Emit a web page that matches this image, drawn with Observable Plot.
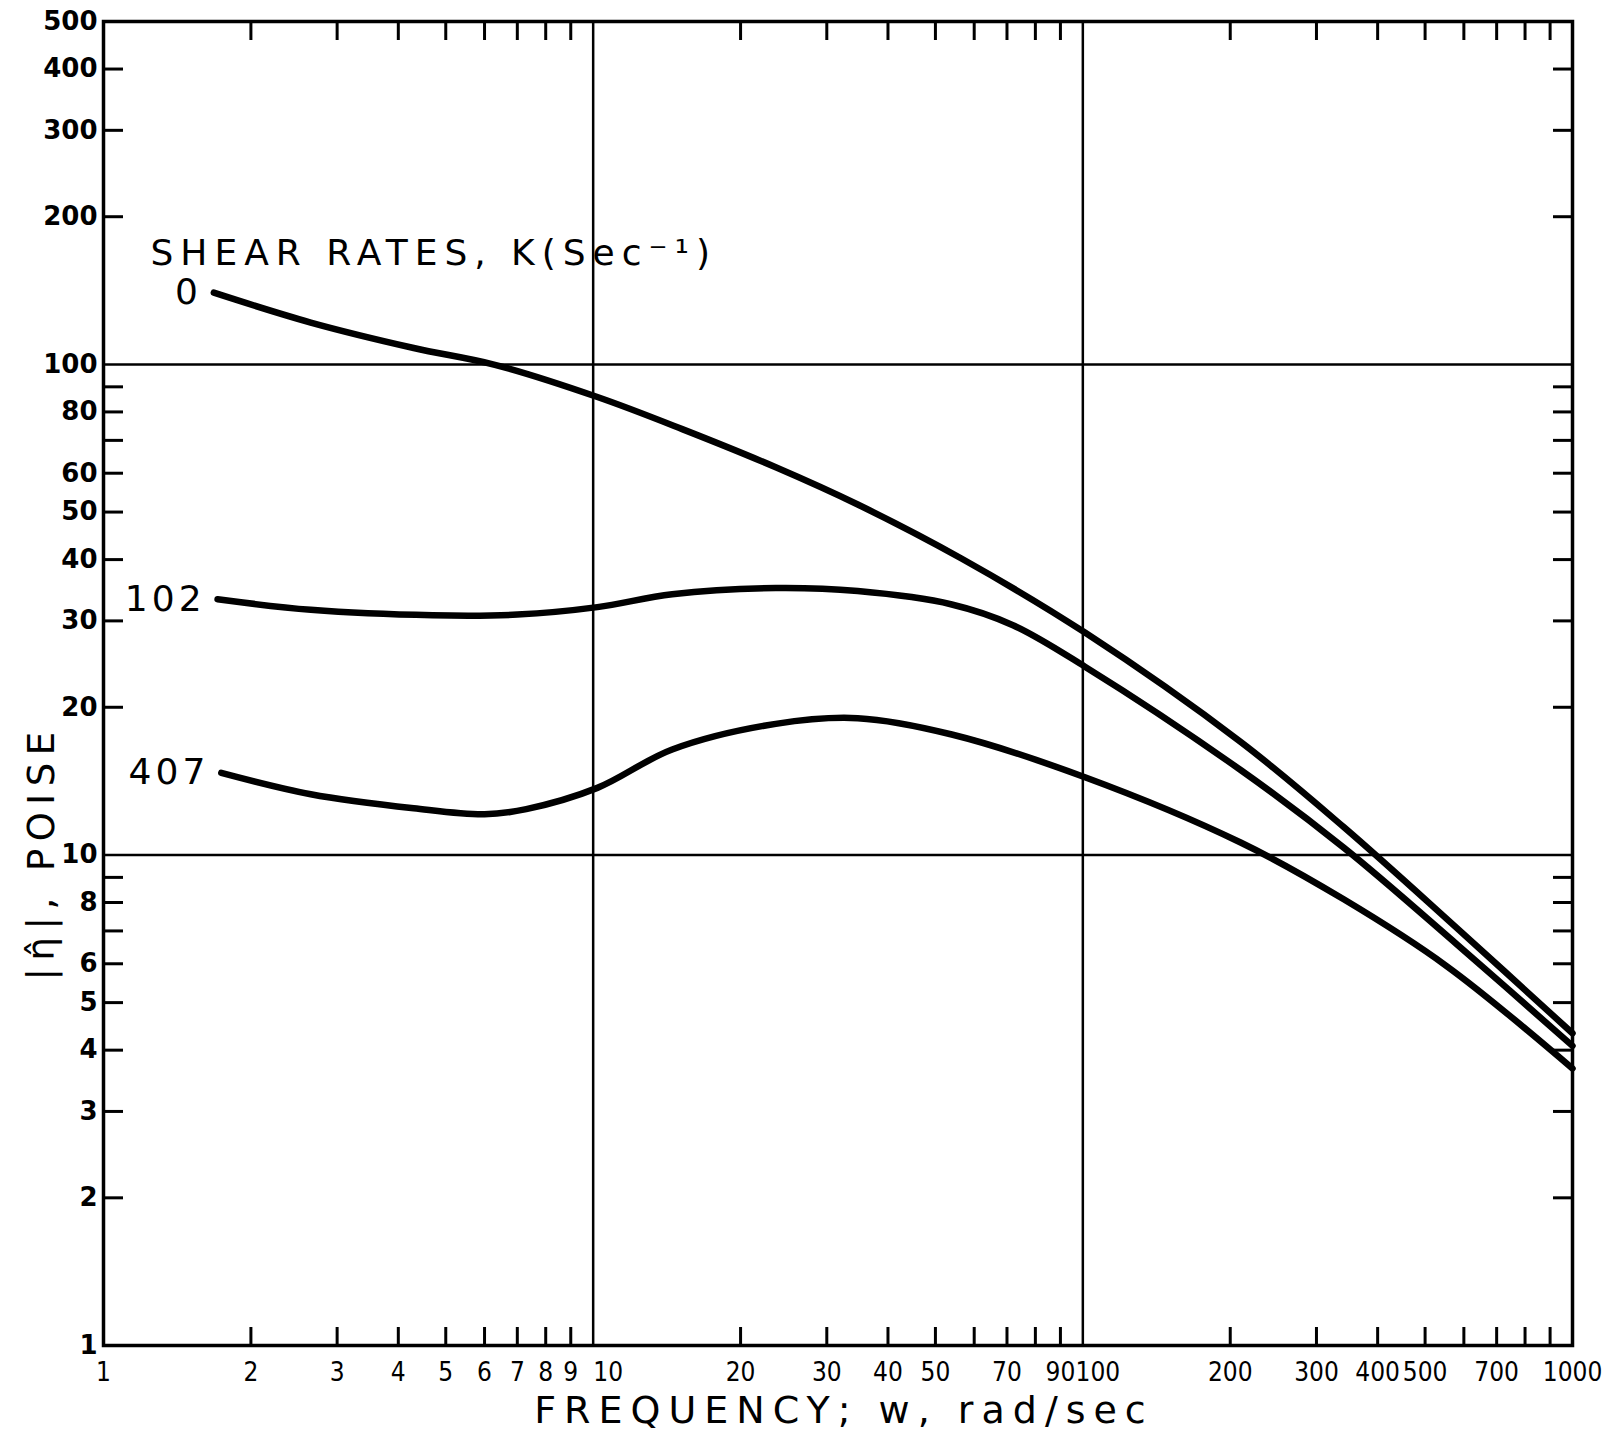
<!DOCTYPE html>
<html>
<head>
<meta charset="utf-8">
<script src="https://cdn.jsdelivr.net/npm/d3@7"></script>
<script src="https://cdn.jsdelivr.net/npm/@observablehq/plot@0.6"></script>
<style>
  html, body { margin: 0; padding: 0; background: white; }
  #chart { width: 1620px; height: 1433px; }
</style>
</head>
<body>
<div id="chart"></div>
<script>
// ---- data ----
const shearRates = ["0", "102", "407"];

const freq0   = [1.68, 2.65, 4.3, 6.3, 10.2, 15.2, 23.6, 34.7, 56.5, 101, 210, 341, 580, 1000];
const eta0    = [140, 121.7, 108, 99.8, 85.8, 73.8, 61.7, 51.8, 40.2, 28.4, 17.0, 11.4, 7.1, 4.33];

const freq102 = [1.71, 2.65, 4.7, 7.0, 10.2, 14.5, 23.6, 34.7, 54, 72, 101, 210, 341, 581, 1000];
const eta102  = [33.2, 31.6, 30.8, 30.9, 32.0, 34.0, 35.0, 34.5, 32.4, 29.4, 24.2, 14.9, 10.35, 6.57, 4.08];

const freq407 = [1.74, 2.65, 4.3, 6.0, 7.3, 10.2, 14.5, 23.6, 34.7, 54, 101, 210, 341, 554, 1000];
const eta407  = [14.7, 13.3, 12.45, 12.1, 12.4, 13.7, 16.4, 18.5, 19.0, 17.6, 14.4, 10.6, 8.12, 5.93, 3.67];

// tick marks and tick labels
const xMinorTicks = [2,3,4,5,6,7,8,9,20,30,40,50,60,70,80,90,200,300,400,500,600,700,800,900];
const xTickLabels = [1,2,3,4,5,6,7,8,9,20,30,40,50,70,90,200,300,400,500,700,1000];
const xDecadeLabels = [10, 100];
const yMinorTicks = [2,3,4,5,6,7,8,9,20,30,40,50,60,70,80,90,200,300,400];
const yTickLabels = [1,2,3,4,5,6,8,10,20,30,40,50,60,80,100,200,300,400,500];
const xGrid = [10, 100];
const yGrid = [10, 100];

const titleText = "SHEAR RATES, K(Sec\u207B\u00B9)";
const xTitle = "FREQUENCY; w, rad/sec";
const yTitle = "|\u03B7\u0302|, POISE";

// ---- build table ----
const seriesX = [freq0, freq102, freq407];
const seriesY = [eta0, eta102, eta407];
const rows = [];
shearRates.forEach((k, i) => {
  seriesX[i].forEach((f, j) => rows.push({k, f, eta: seriesY[i][j]}));
});
const starts = shearRates.map((k, i) => ({k, f: seriesX[i][0], eta: seriesY[i][0]}));

const font = "'DejaVu Sans', sans-serif";
const condensed = "'DejaVu Sans Condensed', 'DejaVu Sans', sans-serif";

const chart = Plot.plot({
  width: 1620,
  height: 1433,
  marginLeft: 103,
  marginRight: 48,
  marginTop: 21,
  marginBottom: 88,
  x: {type: "log", domain: [1, 1000]},
  y: {type: "log", domain: [1, 500]},
  style: {fontFamily: font, background: "white", color: "black", overflow: "visible"},
  marks: [
    Plot.ruleX(xGrid, {stroke: "black", strokeWidth: 2.5}),
    Plot.ruleY(yGrid, {stroke: "black", strokeWidth: 2.5}),
    // inward ticks on all four sides
    Plot.axisX({anchor: "bottom", ticks: xMinorTicks, tickSize: -18, strokeWidth: 3, fill: "none", label: null}),
    Plot.axisX({anchor: "top", ticks: xMinorTicks, tickSize: -18, strokeWidth: 3, fill: "none", label: null}),
    Plot.axisY({anchor: "left", ticks: yMinorTicks, tickSize: -20, strokeWidth: 3, fill: "none", label: null}),
    Plot.axisY({anchor: "right", ticks: yMinorTicks, tickSize: -20, strokeWidth: 3, fill: "none", label: null}),
    // tick labels
    Plot.text(xTickLabels, {x: d => d, text: d => String(d), frameAnchor: "bottom", dy: 27, lineAnchor: "middle",
      fontSize: 26, fontFamily: condensed, fill: "black"}),
    Plot.text(xDecadeLabels, {x: d => d, text: d => String(d), frameAnchor: "bottom", dy: 27, dx: 15, lineAnchor: "middle",
      fontSize: 26, fontFamily: condensed, fill: "black"}),
    Plot.text(yTickLabels, {y: d => d, text: d => String(d), frameAnchor: "left", dx: -6, textAnchor: "end",
      lineAnchor: "middle", fontSize: 26, fontWeight: "bold", fill: "black"}),
    Plot.frame({stroke: "black", strokeWidth: 3.5}),
    // curves
    Plot.line(rows, {x: "f", y: "eta", z: "k", curve: "catmull-rom", stroke: "black", strokeWidth: 6.5, strokeLinecap: "round"}),
    Plot.text(starts, {x: "f", y: "eta", text: "k", dx: -12, textAnchor: "end", fontSize: 36, fill: "black"}),
    // titles
    Plot.text([titleText], {frameAnchor: "top-left", dx: 47, dy: 232, textAnchor: "start", lineAnchor: "middle",
      fontSize: 36, fill: "black"}),
    Plot.text([xTitle], {frameAnchor: "bottom", dx: 6, dy: 65, lineAnchor: "middle",
      fontSize: 38, fill: "black"}),
    Plot.text([yTitle], {frameAnchor: "left", dx: -61, dy: 297, rotate: -90, lineAnchor: "middle",
      fontSize: 37, fill: "black"})
  ]
});

// letter spacing for hand-lettered titles
d3.select(chart).selectAll("text").each(function() {
  const t = this.textContent;
  if (t === titleText) this.setAttribute("letter-spacing", "7");
  if (t === xTitle) this.setAttribute("letter-spacing", "8");
  if (t === yTitle) this.setAttribute("letter-spacing", "7.5");
  if (shearRates.includes(t)) this.setAttribute("letter-spacing", "4");
});

document.getElementById("chart").appendChild(chart);
</script>
</body>
</html>
